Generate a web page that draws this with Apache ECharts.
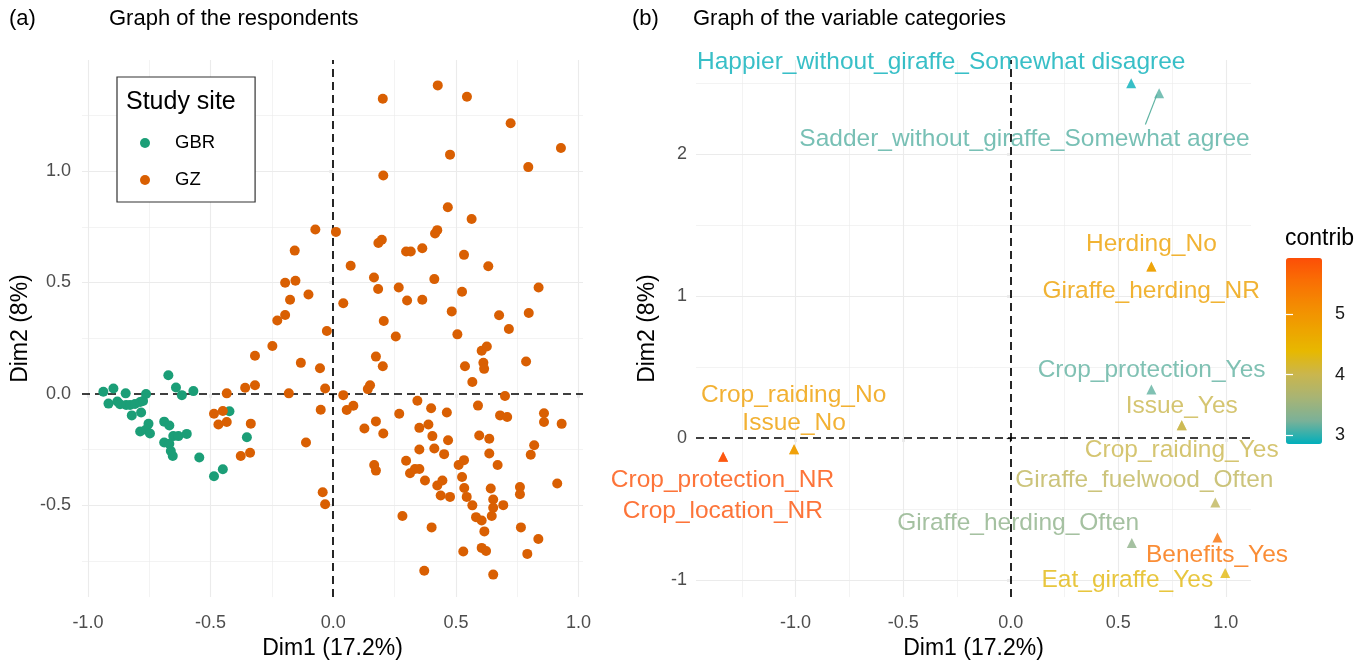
<!DOCTYPE html>
<html>
<head>
<meta charset="utf-8">
<style>
  html, body { margin: 0; padding: 0; background: #fff; }
  #main { width: 1369px; height: 665px; }
</style>
<script src="https://cdn.jsdelivr.net/npm/echarts@6/dist/echarts.min.js"></script>
</head>
<body>
<div id="main"></div>
<script>
// (a) respondents, [Dim1, Dim2]
const gbrPoints = [
  [-0.937, 0.009], [-0.896, 0.024], [-0.846, 0.002], [-0.763, -0.001], [-0.916, -0.044],
  [-0.880, -0.035], [-0.869, -0.047], [-0.844, -0.050], [-0.828, -0.050], [-0.808, -0.046],
  [-0.787, -0.037], [-0.775, -0.032], [-0.821, -0.097], [-0.783, -0.084], [-0.753, -0.135],
  [-0.787, -0.169], [-0.763, -0.161], [-0.747, -0.178], [-0.672, 0.083], [-0.641, 0.028],
  [-0.617, -0.006], [-0.570, 0.012], [-0.689, -0.125], [-0.668, -0.142], [-0.652, -0.190],
  [-0.631, -0.190], [-0.597, -0.180], [-0.689, -0.219], [-0.668, -0.224], [-0.662, -0.257],
  [-0.654, -0.279], [-0.546, -0.286], [-0.486, -0.370], [-0.450, -0.339], [-0.423, -0.078],
  [-0.352, -0.195]
];
const gzPoints = [
  [-0.026, 0.282], [-0.248, 0.215], [-0.319, 0.171], [-0.132, 0.139], [-0.054, 0.115],
  [-0.359, 0.027], [-0.319, 0.038], [-0.434, 0.002], [-0.181, 0.002], [-0.033, 0.024],
  [0.041, -0.006], [0.055, -0.073], [0.082, -0.054], [-0.486, -0.090], [-0.450, -0.077],
  [-0.468, -0.138], [-0.434, -0.127], [-0.336, -0.134], [-0.051, -0.072], [-0.111, -0.219],
  [-0.377, -0.279], [-0.339, -0.265], [-0.043, -0.442], [-0.033, -0.496], [-0.073, 0.738],
  [0.011, 0.727], [-0.157, 0.643], [0.071, 0.575], [-0.196, 0.499], [-0.154, 0.508],
  [-0.176, 0.422], [-0.101, 0.446], [0.041, 0.407], [-0.228, 0.329], [-0.196, 0.354],
  [0.202, 1.325], [0.426, 1.385], [0.545, 1.334], [0.723, 1.215], [0.928, 1.104],
  [0.476, 1.074], [0.795, 1.018], [0.204, 0.980], [0.467, 0.838], [0.564, 0.785],
  [0.424, 0.735], [0.415, 0.720], [0.198, 0.692], [0.184, 0.677], [0.297, 0.639],
  [0.316, 0.639], [0.363, 0.654], [0.533, 0.624], [0.632, 0.573], [0.166, 0.522],
  [0.412, 0.515], [0.183, 0.471], [0.267, 0.477], [0.837, 0.477], [0.301, 0.419],
  [0.363, 0.422], [0.525, 0.458], [0.483, 0.370], [0.676, 0.353], [0.797, 0.363],
  [0.206, 0.327], [0.255, 0.257], [0.506, 0.267], [0.716, 0.291], [0.605, 0.193],
  [0.626, 0.212], [0.174, 0.167], [0.202, 0.124], [0.537, 0.124], [0.612, 0.139],
  [0.615, 0.112], [0.786, 0.145], [0.567, 0.053], [0.150, 0.038], [0.141, 0.021],
  [0.700, -0.010], [0.343, -0.031], [0.399, -0.065], [0.463, -0.084], [0.590, -0.053],
  [0.680, -0.097], [0.709, -0.104], [0.269, -0.090], [0.859, -0.087], [0.859, -0.127],
  [0.931, -0.135], [0.174, -0.124], [0.127, -0.156], [0.204, -0.178], [0.351, -0.153],
  [0.388, -0.138], [0.404, -0.190], [0.468, -0.209], [0.595, -0.187], [0.636, -0.202],
  [0.819, -0.231], [0.805, -0.274], [0.351, -0.250], [0.412, -0.246], [0.452, -0.271],
  [0.636, -0.268], [0.670, -0.320], [0.511, -0.320], [0.533, -0.298], [0.297, -0.301],
  [0.167, -0.320], [0.174, -0.345], [0.313, -0.357], [0.333, -0.338], [0.351, -0.338],
  [0.374, -0.389], [0.525, -0.374], [0.424, -0.412], [0.445, -0.389], [0.438, -0.457],
  [0.476, -0.463], [0.534, -0.423], [0.544, -0.463], [0.567, -0.501], [0.642, -0.425],
  [0.652, -0.475], [0.652, -0.512], [0.693, -0.500], [0.761, -0.419], [0.761, -0.451],
  [0.913, -0.403], [0.282, -0.549], [0.401, -0.600], [0.582, -0.554], [0.605, -0.569],
  [0.646, -0.549], [0.616, -0.618], [0.765, -0.600], [0.836, -0.652], [0.530, -0.708],
  [0.605, -0.692], [0.623, -0.706], [0.791, -0.719], [0.371, -0.795], [0.652, -0.812]
];

// (b) variable categories
const categoryNames = [
  'Happier_without_giraffe_Somewhat disagree', 'Sadder_without_giraffe_Somewhat agree',
  'Herding_No', 'Giraffe_herding_NR', 'Crop_protection_Yes', 'Issue_Yes', 'Crop_raiding_Yes',
  'Giraffe_fuelwood_Often', 'Giraffe_herding_Often', 'Benefits_Yes', 'Eat_giraffe_Yes',
  'Crop_protection_NR', 'Crop_location_NR', 'Crop_raiding_No', 'Issue_No'
];
const categoryDim1 = [0.56, 0.69, 0.654, 0.654, 0.654, 0.795, 0.795, 0.951, 0.563, 0.961, 0.997, -1.337, -1.337, -1.007, -1.007];
const categoryDim2 = [2.50, 2.43, 1.21, 1.21, 0.343, 0.09, 0.09, -0.453, -0.738, -0.70, -0.951, -0.132, -0.132, -0.078, -0.078];
const categoryContrib = [2.87, 3.12, 4.8, 4.8, 3.15, 4.0, 4.0, 3.88, 3.4, 5.52, 4.32, 5.9, 5.9, 4.85, 4.85];
// where the repelled text labels sit (data units)
const labelDim1 = [-0.323, 0.064, 0.654, 0.653, 0.655, 0.795, 0.795, 0.621, 0.035, 0.959, 0.542, -1.34, -1.338, -1.009, -1.007];
const labelDim2 = [2.65, 2.108, 1.368, 1.037, 0.477, 0.222, -0.085, -0.299, -0.599, -0.824, -1.0, -0.299, -0.514, 0.299, 0.107];
const sadderSegment = [[0.626, 2.21], [0.68, 2.42]];

// ticks / grid lines
const dimTicks = [-1, -0.5, 0, 0.5, 1];
const leftYTicks = [-0.5, 0, 0.5, 1];
const rightYTicks = [-1, 0, 1, 2];
const contribTicks = [3, 4, 5];
const leftXGrid = [-1, -0.75, -0.5, -0.25, 0.25, 0.5, 0.75, 1];
const leftYGrid = [-0.75, -0.5, -0.25, 0.25, 0.5, 0.75, 1, 1.25];
const rightXGrid = [-1.25, -1, -0.75, -0.5, -0.25, 0.25, 0.5, 0.75, 1];
const rightYGrid = [-1, -0.5, 0.5, 1, 1.5, 2, 2.5];

// #00AFBB -> #E7B800 -> #FC4E07, stepped in Lab like ggplot's gradientn
const contribColors = ['#00AFBB', '#7BB198', '#A8B474', '#CAB64D', '#E7B800', '#EEA200', '#F48A02', '#F96F04', '#FC4E07'];

const FONT = "'Liberation Sans', Arial, Helvetica, sans-serif";
const chart = echarts.init(document.getElementById('main'), null, { renderer: 'canvas' });

function gridLines(xs, ys, xMajor, yMajor) {
  const style = major => ({ color: '#EBEBEB', width: major ? 1.1 : 0.6, type: 'solid' });
  return xs.map(v => ({ xAxis: v, lineStyle: style(xMajor.includes(v)) }))
    .concat(ys.map(v => ({ yAxis: v, lineStyle: style(yMajor.includes(v)) })));
}

function helperSeries(gi, data, z) {
  return {
    type: 'scatter', xAxisIndex: gi, yAxisIndex: gi, data: [], silent: true,
    markLine: {
      silent: true, symbol: ['none', 'none'], label: { show: false }, z: z, animation: false,
      lineStyle: { type: 'solid' }, emphasis: { disabled: true },
      data: data
    }
  };
}

const zeroStyle = { color: '#000', width: 1.7, type: [8, 5] };

function dimAxis(gi, min, max, ticks, fmt, margin, name, nameGap) {
  return {
    gridIndex: gi, type: 'value', min: min, max: max,
    splitLine: { show: false }, axisLine: { show: false },
    axisTick: { show: true, customValues: ticks, length: 4, lineStyle: { color: '#333', width: 1.2 } },
    axisLabel: { customValues: ticks, formatter: fmt, margin: margin, fontSize: 18, color: '#4D4D4D', fontFamily: FONT },
    name: name, nameGap: nameGap, nameLocation: 'middle',
    nameTextStyle: { fontSize: 23, color: '#000', fontFamily: FONT }
  };
}
const fmt1 = v => v.toFixed(1);
const fmt0 = v => String(v);

const option = {
  animation: false,
  backgroundColor: '#fff',
  textStyle: { fontFamily: FONT },
  title: [
    { text: '(a)', left: 9, top: 8 },
    { text: 'Graph of the respondents', left: 109, top: 8 },
    { text: '(b)', left: 632, top: 8 },
    { text: 'Graph of the variable categories', left: 693, top: 8 },
    { text: 'Study site', left: 126, top: 90, textStyle: { fontSize: 25 } },
    { text: 'contrib', left: 1285, top: 227, textStyle: { fontSize: 23 } }
  ].map(t => Object.assign({ padding: 0 }, t, {
    textStyle: Object.assign({ fontSize: 22, fontWeight: 'normal', color: '#000', fontFamily: FONT }, t.textStyle || {})
  })),
  legend: {
    data: ['GBR', 'GZ'],
    orient: 'vertical', left: 117, top: 77,
    padding: [56, 40, 12, 23],
    itemWidth: 10, itemHeight: 10, itemGap: 17, icon: 'circle',
    backgroundColor: '#fff', borderColor: '#333', borderWidth: 1.2, borderRadius: 0,
    textStyle: { fontSize: 18.5, lineHeight: 20, color: '#000', fontFamily: FONT, padding: [0, 0, 0, 20] }
  },
  grid: [
    { left: 82, top: 60, width: 501, height: 545 },
    { left: 696, top: 60, width: 555, height: 545 },
    { left: 1286, top: 258, width: 36, height: 186 }
  ],
  xAxis: [
    dimAxis(0, -1.024, 1.018, dimTicks, fmt1, 17, 'Dim1 (17.2%)', 34),
    dimAxis(1, -1.463, 1.117, dimTicks, fmt1, 17, 'Dim1 (17.2%)', 34),
    { gridIndex: 2, type: 'value', min: 0, max: 1, show: false }
  ],
  yAxis: [
    dimAxis(0, -0.913, 1.499, leftYTicks, fmt1, 11, 'Dim2 (8%)', 50),
    dimAxis(1, -1.12, 2.664, rightYTicks, fmt0, 9, 'Dim2 (8%)', 37),
    {
      gridIndex: 2, type: 'value', min: 2.85, max: 5.93, position: 'right', z: 10,
      splitLine: { show: false }, axisLine: { show: false },
      axisTick: { show: true, inside: true, length: 7, customValues: contribTicks, lineStyle: { color: '#fff', width: 1.2 } },
      axisLabel: { customValues: contribTicks, margin: 13, fontSize: 18, color: '#1A1A1A', fontFamily: FONT }
    },
    {
      gridIndex: 2, type: 'value', min: 2.85, max: 5.93, position: 'left', z: 10,
      splitLine: { show: false }, axisLine: { show: false }, axisLabel: { show: false },
      axisTick: { show: true, inside: true, length: 7, customValues: contribTicks, lineStyle: { color: '#fff', width: 1.2 } }
    }
  ],
  visualMap: {
    type: 'continuous', min: 2.85, max: 5.93, dimension: 2, seriesIndex: [6, 7],
    orient: 'vertical', left: 1286, top: 258, padding: 0,
    itemWidth: 36, itemHeight: 186, calculable: false, hoverLink: false,
    inRange: { color: contribColors }
  },
  series: [
    {
      name: 'GBR', type: 'scatter', xAxisIndex: 0, yAxisIndex: 0, z: 3,
      symbolSize: 10, itemStyle: { color: '#1B9E77', opacity: 1 }, data: gbrPoints
    },
    {
      name: 'GZ', type: 'scatter', xAxisIndex: 0, yAxisIndex: 0, z: 3,
      symbolSize: 10, itemStyle: { color: '#D95F02', opacity: 1 }, data: gzPoints
    },
    helperSeries(0, gridLines(leftXGrid, leftYGrid, dimTicks, leftYTicks), 1),
    helperSeries(0, [{ xAxis: 0, lineStyle: zeroStyle }, { yAxis: 0, lineStyle: zeroStyle }], 2),
    helperSeries(1, gridLines(rightXGrid, rightYGrid, dimTicks, rightYTicks), 1),
    helperSeries(1, [{ xAxis: 0, lineStyle: zeroStyle }, { yAxis: 0, lineStyle: zeroStyle }], 2),
    {
      name: 'categories', type: 'scatter', xAxisIndex: 1, yAxisIndex: 1, z: 3,
      symbol: 'triangle', symbolSize: 10,
      data: categoryNames.map((n, i) => ({ name: n, value: [categoryDim1[i], categoryDim2[i], categoryContrib[i]] }))
    },
    {
      name: 'labels', type: 'scatter', xAxisIndex: 1, yAxisIndex: 1, z: 4,
      symbolSize: 0.1, silent: true,
      label: { show: true, position: 'inside', formatter: '{b}', fontSize: 24.5, color: 'inherit', fontFamily: FONT },
      data: categoryNames.map((n, i) => ({ name: n, value: [labelDim1[i], labelDim2[i], categoryContrib[i]] }))
    },
    {
      type: 'line', xAxisIndex: 1, yAxisIndex: 1, z: 3, symbol: 'none', silent: true,
      lineStyle: { color: '#5FB3A2', width: 1.2 }, data: sadderSegment
    }
  ]
};

chart.setOption(option);
</script>
</body>
</html>
